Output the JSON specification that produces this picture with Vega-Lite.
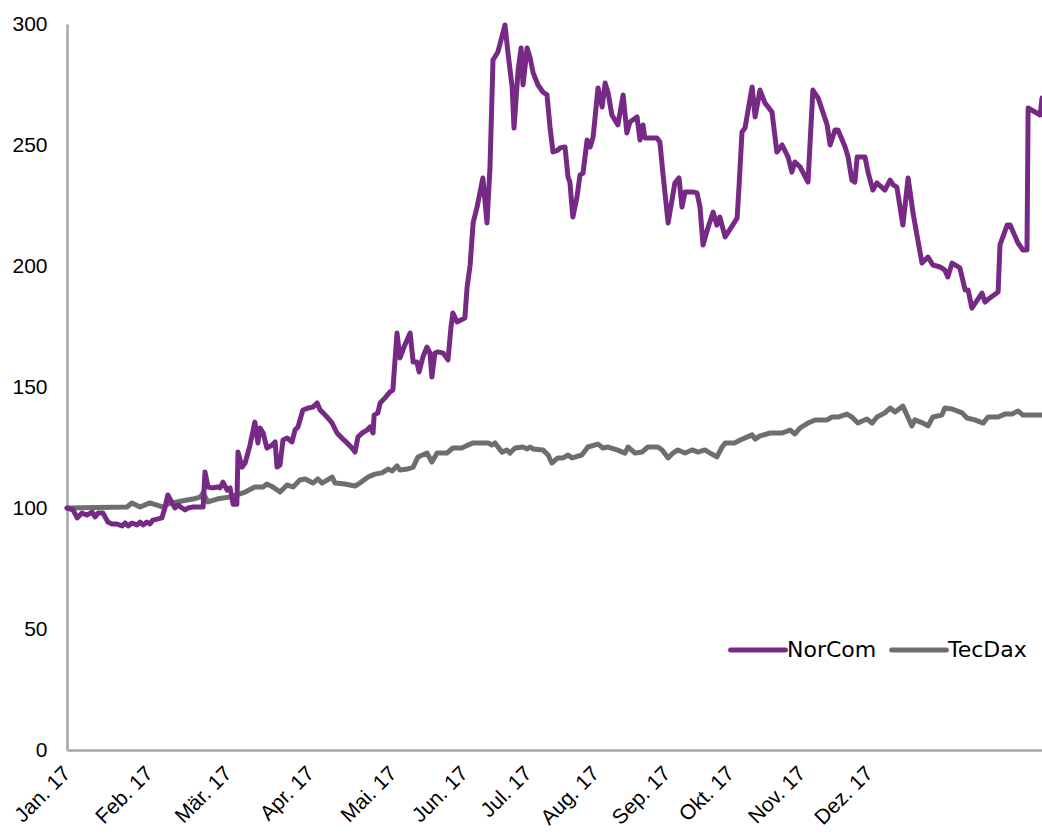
{
  "$schema": "https://vega.github.io/schema/vega-lite/v6.json",
  "autosize": {"type": "none"},
  "width": 975,
  "height": 726,
  "padding": {"left": 67, "top": 24, "right": 0, "bottom": 85},
  "background": "white",
  "config": {"view": {"stroke": null}},
  "datasets": {
    "norcom": [
      [0,100.0],[1.6,99.2],[2.7,95.9],[4.0,97.9],[5.3,97.1],[6.7,98.3],[7.5,96.3],[8.3,97.9],[9.6,97.9],[10.9,94.2],[12.0,93.4],[13.3,93.4],[14.7,92.6],[15.5,93.8],[16.3,92.6],[17.3,93.8],[18.7,93.0],[19.5,94.2],[20.3,93.0],[21.3,94.2],[22.1,93.4],[22.9,95.0],[24.3,95.5],[25.3,95.9],[26.1,100.0],[26.9,105.4],[28.0,102.1],[28.8,100.0],[29.6,101.2],[30.7,100.0],[31.5,99.2],[32.3,100.0],[33.6,100.4],[34.9,100.4],[36.3,100.4],[36.8,114.9],[37.6,108.7],[38.9,108.3],[40.0,108.7],[40.8,108.3],[41.6,110.7],[42.7,107.4],[43.5,108.3],[44.3,101.5],[45.3,101.5],[45.6,123.1],[46.7,116.9],[47.5,118.6],[48.8,126.0],[50.1,135.5],[50.9,126.9],[51.5,133.1],[52.3,131.0],[53.3,124.8],[54.7,126.0],[55.5,127.3],[56.0,116.9],[56.8,117.8],[57.6,128.1],[58.7,128.9],[60.0,127.3],[60.8,132.2],[61.6,133.5],[62.9,140.5],[64.3,141.3],[65.6,141.7],[66.7,143.4],[67.5,140.5],[68.3,139.3],[69.6,137.2],[70.7,135.1],[72.0,131.0],[73.3,128.9],[74.7,126.9],[76.0,124.8],[76.8,123.1],[77.6,129.3],[78.7,131.0],[80.0,132.2],[80.8,133.5],[81.6,131.0],[81.9,138.4],[82.9,139.3],[83.5,143.4],[84.8,145.5],[86.1,147.9],[86.9,148.8],[88.0,172.3],[88.8,162.0],[90.1,167.4],[91.5,172.3],[92.3,160.3],[93.3,160.3],[93.9,156.2],[94.9,162.4],[96.0,166.5],[96.8,164.0],[97.3,154.1],[98.1,164.0],[98.9,164.5],[100.3,164.0],[101.6,161.2],[102.4,174.8],[102.9,180.6],[104.0,176.9],[106.1,178.5],[106.7,191.3],[107.5,200.4],[108.3,217.8],[109.3,224.0],[110.9,236.4],[112.0,217.8],[112.8,240.9],[113.6,285.1],[114.9,288.4],[116.8,299.6],[117.6,288.0],[118.7,274.0],[119.2,257.0],[120.3,281.0],[121.1,290.1],[121.6,274.8],[122.7,290.1],[123.5,286.0],[124.3,279.8],[125.6,274.8],[126.9,271.9],[128.0,270.7],[128.8,257.4],[129.6,247.1],[130.9,247.9],[131.5,248.8],[132.8,249.2],[133.6,236.8],[134.1,234.7],[134.9,220.2],[136.0,228.5],[136.8,237.6],[137.6,238.4],[138.7,252.1],[139.5,249.2],[140.3,253.3],[141.6,273.6],[142.7,265.7],[143.5,275.6],[144.3,271.5],[145.3,262.4],[146.9,258.3],[148.3,270.7],[149.3,255.0],[150.1,259.5],[152.0,261.6],[152.8,252.1],[153.6,258.3],[154.1,252.9],[155.5,252.9],[157.3,252.9],[158.1,251.2],[158.9,238.4],[160.3,217.8],[162.1,234.3],[163.2,236.4],[164.0,224.4],[164.8,230.6],[166.9,230.6],[168.0,230.2],[168.8,224.4],[169.6,208.7],[170.9,215.7],[172.3,222.3],[173.3,216.9],[174.1,220.2],[175.5,212.0],[178.7,219.8],[179.2,232.6],[180.0,255.4],[180.8,257.0],[182.7,274.0],[183.5,261.6],[184.8,272.7],[186.1,267.4],[188.0,263.6],[189.3,247.1],[190.7,250.0],[192.3,245.0],[193.3,238.8],[194.1,243.0],[195.5,240.9],[197.6,234.7],[198.9,272.7],[200.3,269.4],[202.7,258.3],[203.5,250.0],[204.8,256.2],[205.6,256.2],[207.5,249.2],[208.3,245.0],[209.3,235.5],[210.1,234.7],[210.7,245.0],[212.8,245.0],[213.6,238.8],[214.9,231.4],[216.0,234.3],[218.1,231.4],[219.5,235.5],[220.3,233.5],[221.3,232.6],[222.9,216.9],[224.3,236.4],[225.6,221.9],[228.0,201.2],[229.6,203.7],[230.9,200.4],[232.8,199.6],[234.1,198.3],[234.9,195.5],[236.0,201.2],[238.1,199.2],[239.5,190.1],[240.3,190.1],[241.3,182.6],[244.0,188.8],[244.8,185.1],[246.1,186.8],[248.3,189.3],[248.8,208.7],[250.7,216.9],[251.5,216.9],[253.6,209.5],[254.9,206.6],[256.0,206.6],[256.3,265.3],[259.5,262.4],[260.0,269.4]
    ],
    "tecdax": [
      [0,100.0],[16.0,100.4],[17.3,102.1],[19.5,100.4],[22.1,102.1],[24.0,101.2],[25.6,100.4],[27.5,102.1],[29.3,102.5],[32.0,103.3],[33.6,103.7],[35.5,104.5],[36.3,106.2],[37.6,102.5],[40.0,103.7],[41.6,104.1],[43.5,104.5],[45.3,105.4],[47.5,106.6],[50.1,108.7],[52.3,108.7],[53.3,109.9],[54.9,108.7],[56.8,106.6],[58.7,109.5],[60.3,108.7],[62.1,111.6],[63.5,112.0],[65.6,110.3],[66.9,112.0],[68.0,110.3],[70.7,112.8],[71.5,110.3],[74.1,109.9],[76.8,109.1],[78.1,110.3],[80.3,112.8],[82.1,114.0],[84.0,114.5],[85.6,116.1],[86.7,115.3],[88.0,117.4],[88.8,115.7],[90.7,116.1],[92.3,116.9],[93.6,121.1],[96.0,122.7],[97.3,119.0],[98.7,122.7],[101.3,122.7],[102.9,124.8],[105.3,124.8],[106.9,126.0],[108.3,126.9],[112.3,126.9],[113.3,126.0],[114.1,126.9],[116.0,123.1],[117.3,124.0],[118.1,122.7],[119.5,124.8],[121.6,125.2],[122.7,124.4],[123.5,125.2],[124.3,124.4],[126.9,124.0],[128.3,121.9],[129.3,118.6],[130.9,120.7],[132.3,120.7],[133.6,121.9],[134.7,120.7],[137.3,121.9],[138.9,125.2],[141.6,126.4],[142.9,124.8],[144.3,125.2],[146.7,124.0],[148.8,122.7],[149.6,125.2],[151.5,122.7],[153.3,123.1],[154.9,125.2],[157.6,125.2],[158.7,124.0],[160.3,120.7],[161.6,122.7],[162.9,124.0],[164.8,122.7],[166.7,124.0],[168.3,123.1],[170.1,124.0],[171.5,122.7],[173.3,121.1],[174.7,125.2],[175.5,126.9],[178.1,126.9],[179.5,128.1],[181.3,129.3],[182.7,130.2],[183.5,128.5],[184.8,129.8],[187.5,131.0],[190.7,131.0],[192.8,132.2],[194.1,130.6],[195.5,133.1],[197.6,135.1],[199.5,136.4],[202.7,136.4],[204.0,137.6],[205.6,137.6],[208.0,138.8],[209.3,137.6],[210.9,135.1],[213.3,136.8],[214.7,135.1],[216.0,137.6],[218.1,139.3],[219.5,141.3],[220.8,139.7],[222.9,142.1],[225.3,133.9],[226.1,136.4],[228.3,135.1],[229.6,133.9],[230.9,137.6],[233.3,138.4],[234.1,141.3],[236.0,140.9],[238.7,139.3],[240.0,137.2],[242.1,136.4],[244.3,135.1],[245.6,137.6],[248.3,137.6],[250.1,138.8],[252.0,138.8],[253.6,140.1],[254.9,138.4],[260.0,138.4]
    ]
  },
  "data": {"name": "norcom"},
  "transform": [
    {"calculate": "'NorCom'", "as": "Serie"},
    {"calculate": "datum[0]", "as": "Tag"},
    {"calculate": "datum[1]", "as": "Wert"}
  ],
  "layer": [
    {
      "data": {"name": "tecdax"},
      "transform": [
        {"calculate": "'TecDax'", "as": "Serie"},
        {"calculate": "datum[0]", "as": "Tag"},
        {"calculate": "datum[1]", "as": "Wert"}
      ],
      "mark": {"type": "line", "strokeWidth": 5, "strokeCap": "round", "strokeJoin": "round"},
      "encoding": {
        "x": {"field": "Tag", "type": "quantitative"},
        "y": {"field": "Wert", "type": "quantitative"},
        "color": {"field": "Serie", "type": "nominal"}
      }
    },
    {
      "mark": {"type": "line", "strokeWidth": 5, "strokeCap": "round", "strokeJoin": "round"},
      "encoding": {
        "x": {
          "field": "Tag", "type": "quantitative",
          "scale": {"domain": [0, 260], "nice": false, "zero": false},
          "axis": {
            "title": null, "grid": false, "ticks": false,
            "domainColor": "#a6a6a6", "domainWidth": 2.5,
            "values": [0, 22, 43, 65, 87, 106, 123, 141, 160, 177, 196, 214],
            "labelExpr": "['Jan. 17','Feb. 17','Mär. 17','Apr. 17','Mai. 17','Jun. 17','Jul. 17','Aug. 17','Sep. 17','Okt. 17','Nov. 17','Dez. 17'][indexof([0,22,43,65,87,106,123,141,160,177,196,214], datum.value)]",
            "labelAngle": -45, "labelFont": "Liberation Sans", "labelFontSize": 21,
            "labelAlign": "right", "labelBaseline": "middle",
            "labelColor": "#000000", "labelPadding": 20, "labelOverlap": false, "labelFlush": false
          }
        },
        "y": {
          "field": "Wert", "type": "quantitative",
          "scale": {"domain": [0, 300], "nice": false},
          "axis": {
            "title": null, "grid": false, "ticks": false,
            "domainColor": "#a6a6a6", "domainWidth": 2.5,
            "values": [0, 50, 100, 150, 200, 250, 300],
            "labelFont": "Liberation Sans", "labelFontSize": 21,
            "labelColor": "#000000", "labelPadding": 20
          }
        },
        "color": {
          "field": "Serie", "type": "nominal",
          "scale": {"domain": ["NorCom", "TecDax"], "range": ["#772a85", "#6e6e6e"]},
          "legend": {
            "title": null, "orient": "none", "legendX": 661, "legendY": 596,
            "direction": "horizontal", "symbolType": "stroke", "symbolSize": 3000,
            "symbolStrokeWidth": 5, "labelFont": "DejaVu Sans", "labelFontSize": 22,
            "labelColor": "#000000", "labelOffset": -1, "columnPadding": 4,
            "encode": {"symbols": {"update": {"strokeCap": {"value": "round"}}}}
          }
        }
      }
    }
  ]
}
